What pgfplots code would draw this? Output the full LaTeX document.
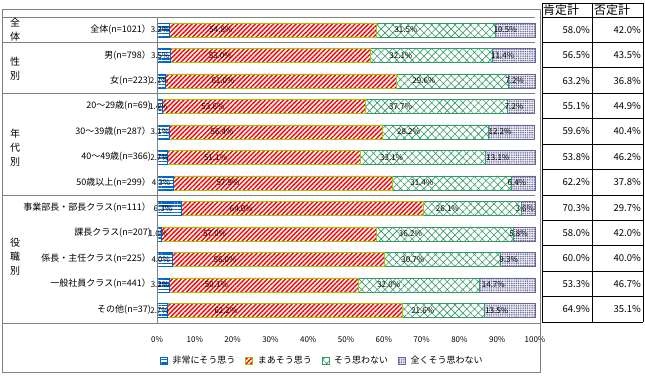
\documentclass[border=0pt]{standalone}
\usepackage{pgfplots}
\pgfplotsset{compat=1.18}
\usepackage{pgfplotstable}
\usetikzlibrary{patterns,patterns.meta}
\usepackage{fontspec}
\setmainfont{Noto Sans CJK JP}
\definecolor{cblue}{RGB}{0,102,204}
\definecolor{cred}{RGB}{255,0,0}
\definecolor{cyg}{RGB}{153,204,0}
\definecolor{cgreen}{RGB}{51,153,102}
\definecolor{cpurple}{RGB}{102,102,153}
\definecolor{cgray}{RGB}{128,128,128}

\pgfplotstableread{
idx a b c d
0 3.2 54.8 31.5 10.5
1 3.5 53.0 32.1 11.4
2 2.2 61.0 29.6 7.2
3 1.4 53.6 37.7 7.2
4 3.1 56.4 28.2 12.2
5 2.7 51.1 33.1 13.1
6 4.3 57.9 31.4 6.4
7 6.3 64.0 26.1 3.6
8 1.0 57.0 36.2 5.8
9 4.0 56.0 30.7 9.3
10 3.2 50.1 32.0 14.7
11 2.7 62.2 21.6 13.5
}\data

\begin{document}
\begin{tikzpicture}
\path[use as bounding box] (0pt,0pt) rectangle (645pt,-379pt);
\begin{axis}[
  at={(157pt,-323pt)}, anchor=south west,
  scale only axis, width=378pt, height=306pt,
  xbar stacked, bar width=14pt,
  xmin=0, xmax=100, ymin=-0.5, ymax=11.5, y dir=reverse,
  axis line style={draw=none},
  ytick=\empty,
  xtick={0,10,...,100}, major tick length=0pt,
  xticklabel={\pgfmathprintnumber[assume math mode=true]{\tick}\%},
  xticklabel style={font=\fontsize{8}{9}\selectfont, yshift=-10pt},
  clip=false,
  point meta=rawx,
  visualization depends on={rawx \as \rawx},
  nodes near coords={\pgfmathprintnumber[assume math mode=true,fixed,fixed zerofill,precision=1]{\pgfplotspointmeta}\%},
  nodes near coords align={center},
  every node near coord/.append style={font=\fontsize{8}{9}\selectfont, text=black, anchor=center, xshift={-0.945pt*\rawx}, inner sep=0pt},
  legend style={at={(rel axis cs:0,-0.124)}, anchor=west, draw=none, font=\fontsize{9}{10}\selectfont, column sep=3pt, /tikz/every even column/.append style={column sep=8pt}},
  legend columns=4,
  legend image code/.code={\draw[#1] (0pt,-3.5pt) rectangle (7pt,3.5pt);},
]
\addplot[draw=cblue, pattern={Lines[angle=0,distance=3.2pt,line width=1.4pt]}, pattern color=cblue] table[x=a,y=idx]{\data};
\addplot[draw=cyg, pattern={Lines[angle=45,distance=3.2pt,line width=1.4pt]}, pattern color=cred] table[x=b,y=idx]{\data};
\addplot[draw=cgreen, pattern={Hatch[angle=45,distance=5.5pt,line width=0.6pt]}, pattern color=cgreen] table[x=c,y=idx]{\data};
\addplot[draw=cpurple, pattern={Dots[distance=1.8pt,radius=0.7pt]}, pattern color=cpurple] table[x=d,y=idx]{\data};
\legend{非常にそう思う, まあそう思う, そう思わない, 全くそう思わない}
\end{axis}

\begin{scope}[x=1pt,y=-1pt]
  % outer frame
  \draw[cgray, line width=0.8pt] (2,9) rectangle (540,372);
  \foreach \yy in {17,42.4,93.3,195.0} \draw[cgray, line width=0.8pt] (2,\yy) -- (535,\yy);
  \draw[cgray, line width=0.8pt] (2,323) -- (540,323);
  \draw[cgray, line width=0.8pt] (157,17) -- (157,323);
  % group labels
  \node[align=center, font=\fontsize{10}{14}\selectfont] at (15,30) {全\\体};
  \node[align=center, font=\fontsize{10}{14}\selectfont] at (15,69) {性\\別};
  \node[align=center, font=\fontsize{10}{14}\selectfont] at (15,148) {年\\代\\別};
  \node[align=center, font=\fontsize{10}{14}\selectfont] at (15,257) {役\\職\\別};
  % row labels
  \foreach \i/\t in {0/{全体(n=1021）},1/{男(n=798）},2/{女(n=223)},3/{20～29歳(n=69)},4/{30～39歳(n=287）},5/{40～49歳(n=366)},6/{50歳以上(n=299）},7/{事業部長・部長クラス(n=111）},8/{課長クラス(n=207)},9/{係長・主任クラス(n=225）},10/{一般社員クラス(n=441）},11/{その他(n=37)}}
    \node[anchor=east, font=\fontsize{9}{10}\selectfont, inner sep=0pt] at (151,{17+25.42*(\i+0.5)}) {\t};
  % table
  \draw[black, line width=0.8pt] (542,3) -- (643,3);
  \foreach \k in {0,...,12} \draw[black, line width=0.8pt] (542,{17+25.42*\k}) -- (643,{17+25.42*\k});
  \foreach \xx in {542,592,643} \draw[black, line width=0.8pt] (\xx,3) -- (\xx,322.0);
  \node[anchor=west, font=\fontsize{12}{13}\selectfont, inner sep=0pt] at (543,10) {肯定計};
  \node[anchor=west, font=\fontsize{12}{13}\selectfont, inner sep=0pt] at (594,10) {否定計};
  \foreach \i/\p/\n in {0/58.0/42.0,1/56.5/43.5,2/63.2/36.8,3/55.1/44.9,4/59.6/40.4,5/53.8/46.2,6/62.2/37.8,7/70.3/29.7,8/58.0/42.0,9/60.0/40.0,10/53.3/46.7,11/64.9/35.1}{
    \node[anchor=east, font=\fontsize{9.5}{10}\selectfont, inner sep=0pt] at (590,{17+25.42*(\i+0.5)}) {\p\%};
    \node[anchor=east, font=\fontsize{9.5}{10}\selectfont, inner sep=0pt] at (641,{17+25.42*(\i+0.5)}) {\n\%};
  }
\end{scope}
\end{tikzpicture}
\end{document}
